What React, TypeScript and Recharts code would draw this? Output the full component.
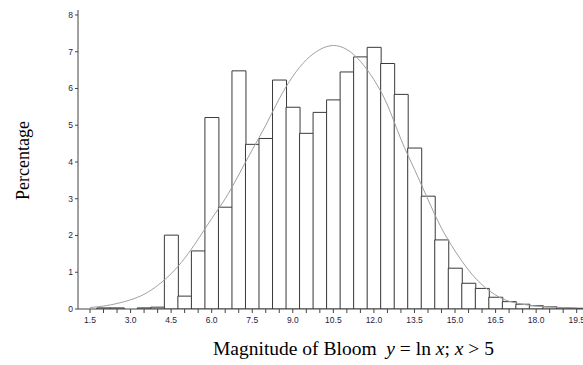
import React from 'react';
import { ComposedChart, Bar, Line, XAxis, YAxis } from 'recharts';

const binCenters = [
  1.5, 2.0, 2.5, 3.0, 3.5, 4.0, 4.5, 5.0, 5.5, 6.0, 6.5, 7.0, 7.5, 8.0, 8.5, 9.0, 9.5, 10.0, 10.5,
  11.0, 11.5, 12.0, 12.5, 13.0, 13.5, 14.0, 14.5, 15.0, 15.5, 16.0, 16.5, 17.0, 17.5, 18.0, 18.5, 19.0, 19.5,
];
const percentages = [
  0, 0.03, 0.03, 0, 0.03, 0.05, 2.01, 0.35, 1.58, 5.21, 2.77, 6.48, 4.48, 4.64, 6.23, 5.49, 4.78, 5.35, 5.69,
  6.45, 6.86, 7.12, 6.68, 5.84, 4.38, 3.07, 1.88, 1.11, 0.7, 0.56, 0.32, 0.2, 0.13, 0.09, 0.06, 0.03, 0.02,
];
const fittedCurve = [
  0.04, 0.08, 0.15, 0.25, 0.4, 0.64, 0.96, 1.38, 1.9, 2.46, 3.0, 3.65, 4.33, 5.0, 5.72, 6.33, 6.78, 7.06, 7.17,
  7.06, 6.74, 6.24, 5.55, 4.62, 3.8, 2.98, 2.2, 1.58, 1.06, 0.66, 0.38, 0.21, 0.13, 0.08, 0.055, 0.04, 0.03,
];
const xTickValues = [
  1.5, 2.0, 2.5, 3.0, 3.5, 4.0, 4.5, 5.0, 5.5, 6.0, 6.5, 7.0, 7.5, 8.0, 8.5, 9.0, 9.5, 10.0, 10.5,
  11.0, 11.5, 12.0, 12.5, 13.0, 13.5, 14.0, 14.5, 15.0, 15.5, 16.0, 16.5, 17.0, 17.5, 18.0, 18.5, 19.0, 19.5,
];
const xMajorLabels = [1.5, 3.0, 4.5, 6.0, 7.5, 9.0, 10.5, 12.0, 13.5, 15.0, 16.5, 18.0, 19.5];
const yTicks = [0, 1, 2, 3, 4, 5, 6, 7, 8];
const xDomain = [1.056, 19.733];
const yDomain = [0, 8.136];

const data = binCenters.map((x, i) => ({ x, pct: percentages[i], fit: fittedCurve[i] }));

const XTick = (props: any) => {
  const { x, y, payload } = props;
  const isMajor = xMajorLabels.some((v) => Math.abs(v - payload.value) < 1e-6);
  if (!isMajor) return <g />;
  return (
    <text x={x} y={y} dy={8} textAnchor="middle" fontSize={8.5} fill="#1f2340" fontFamily="'Liberation Sans', Arial, sans-serif">
      {Number(payload.value).toFixed(1)}
    </text>
  );
};

const YTick = (props: any) => {
  const { x, y, payload } = props;
  return (
    <text x={x} y={y} dy={3} textAnchor="end" fontSize={8.5} fill="#1f2340" fontFamily="'Liberation Sans', Arial, sans-serif">
      {payload.value}
    </text>
  );
};

const serif = "'Liberation Serif', 'Times New Roman', serif";

const XTitle = (props: any) => {
  const vb = props.viewBox || {};
  const sx = vb.x + 135;
  return (
    <text x={sx} y={vb.y + 46} textAnchor="start" fontSize={19.5} fontFamily={serif} fill="#000" xmlSpace="preserve" style={{ whiteSpace: 'pre' }}>
      <tspan>{'Magnitude of Bloom  '}</tspan>
      <tspan fontStyle="italic">y</tspan>
      <tspan>{' = ln '}</tspan>
      <tspan fontStyle="italic">x</tspan>
      <tspan>{'; '}</tspan>
      <tspan fontStyle="italic">x</tspan>
      <tspan>{' > 5'}</tspan>
    </text>
  );
};

const YTitle = (props: any) => {
  const vb = props.viewBox || {};
  const cx = 23;
  const cy = vb.y + vb.height / 2 + 1;
  return (
    <text x={cx} y={cy} transform={`rotate(-90, ${cx}, ${cy})`} textAnchor="middle" dominantBaseline="central" fontSize={18} fontFamily={serif} fill="#000">
      Percentage
    </text>
  );
};

export default function App() {
  return (
    <div style={{ position: 'absolute', left: 0, top: 0, width: 583, height: 365, background: '#fff' }}>
      <ComposedChart
        width={583}
        height={365}
        data={data}
        margin={{ top: 10, right: 0, bottom: 0, left: 0 }}
        barCategoryGap={0}
        barGap={0}
      >
        <XAxis
          xAxisId="top"
          orientation="top"
          type="number"
          dataKey="x"
          domain={xDomain}
          allowDataOverflow
          height={0}
          tick={false}
          tickLine={false}
          stroke="#555"
        />
        <XAxis
          dataKey="x"
          type="number"
          domain={xDomain}
          allowDataOverflow
          ticks={xTickValues}
          interval={0}
          height={56}
          tickSize={4}
          tickMargin={2}
          tick={<XTick />}
          stroke="#444"
          label={<XTitle />}
        />
        <YAxis
          type="number"
          domain={yDomain}
          allowDataOverflow
          ticks={yTicks}
          interval={0}
          width={78}
          tickSize={3}
          tickMargin={2}
          tick={<YTick />}
          stroke="#444"
          label={<YTitle />}
        />
        <Bar dataKey="pct" fill="#fff" stroke="#3a3a3a" strokeWidth={1} isAnimationActive={false} />
        <Line dataKey="fit" type="natural" stroke="#a0a0a0" strokeWidth={1} dot={false} activeDot={false} isAnimationActive={false} />
      </ComposedChart>
    </div>
  );
}
